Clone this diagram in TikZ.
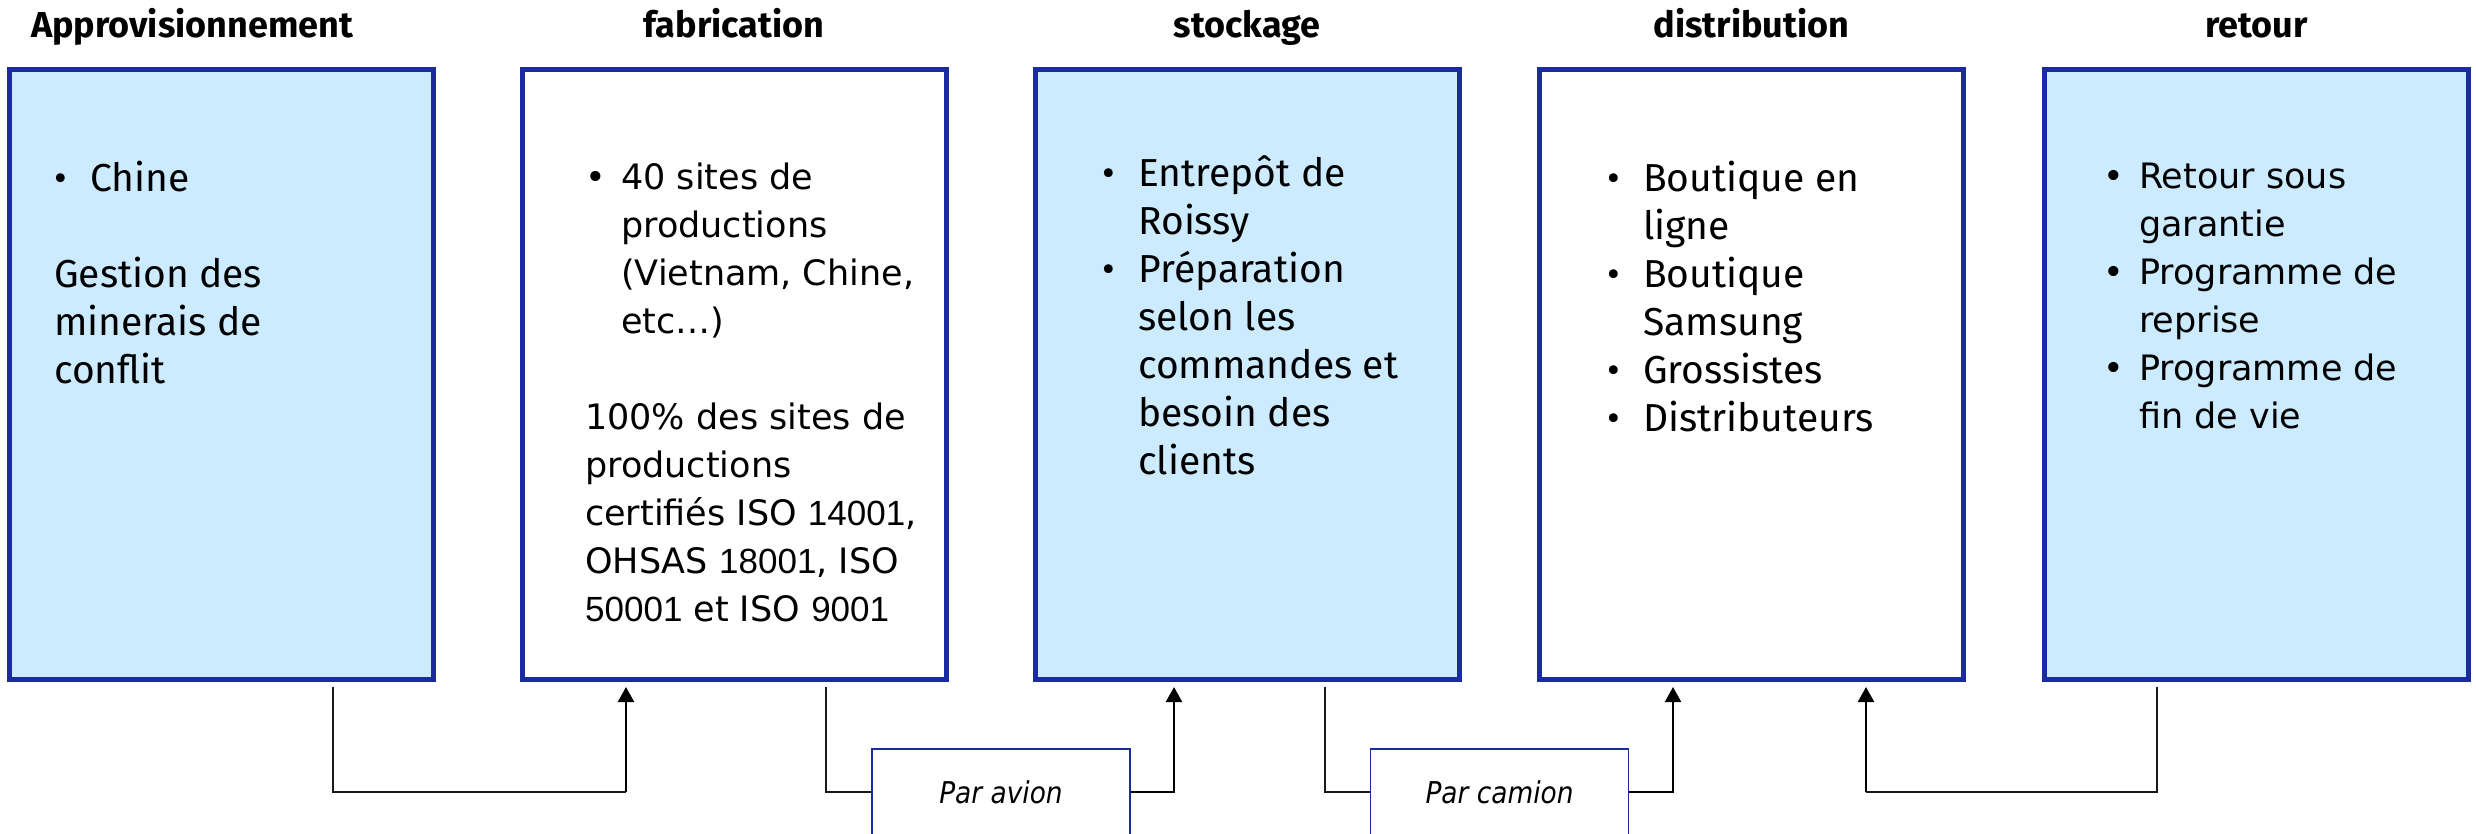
\documentclass[tikz,border=0pt]{standalone}
\usepackage{fontspec}
\setmainfont{Fira Sans}
\newfontfamily\dejavu{DejaVu Sans}
\newfontfamily\arial{Liberation Sans}
\newfontfamily\etroit[FakeStretch=0.88]{DejaVu Sans}
\usetikzlibrary{arrows.meta,positioning}
\definecolor{bordbleu}{RGB}{26,43,159}
\definecolor{fondbleu}{RGB}{204,235,255}
\newcommand{\puce}{\makebox[36pt][l]{\textbullet}}
\newcommand{\retrait}{\makebox[36pt]{}}

\begin{document}
\begin{tikzpicture}[
        x=1pt, y=-1pt,
        boite/.style={draw=bordbleu, line width=5pt, minimum width=424pt, minimum height=610pt, inner sep=0pt},
        bleun/.style={boite, fill=fondbleu},
        blancn/.style={boite, fill=white},
        titre/.style={anchor=base, font=\fontsize{36}{40}\selectfont\bfseries},
        texte/.style={anchor=base west, align=left, inner sep=0pt, font=\fontsize{39}{48}\selectfont},
        textedv/.style={texte, font=\dejavu\fontsize{35}{48}\selectfont},
        transport/.style={draw=bordbleu, line width=1.5pt, minimum width=258pt, minimum height=86pt, font=\etroit\itshape\fontsize{30}{34}\selectfont},
        fil/.style={draw=black!90, line width=1.2pt},
        fleche/.style={draw=black, line width=2.2pt, -{Triangle[length=15pt,width=16pt]}},
    ]
    \useasboundingbox (0,0) rectangle (2476,834);

    % les cinq etapes
    \node[bleun] (appro) at (221.5,374.5) {};
    \node[blancn] (fabri) at (734,374.5) {};
    \node[bleun] (stock) at (1247,374.5) {};
    \node[blancn] (distri) at (1751.5,374.5) {};
    \node[bleun] (retour) at (2256.5,374.5) {};

    \node[titre] (tappro) at (192,38) {Approvisionnement};
    \node[titre] (tfabri) at (734,38) {fabrication};
    \node[titre] (tstock) at (1247,38) {stockage};
    \node[titre] (tdistri) at (1751.5,38) {distribution};
    \node[titre] (tretour) at (2256.5,38) {retour};

    % textes (ancre sur la derniere ligne)
    \node[texte] (xappro) at (54,383) {\puce Chine\\[48pt] Gestion des\\ minerais de\\ conflit};
    \node[textedv] (xfabri) at (585,621) {\puce 40 sites de\\ \retrait productions\\ \retrait (Vietnam, Chine,\\ \retrait etc…)\\[48pt] 100\% des sites de\\ productions\\ certifiés ISO {\arial 14001},\\ OHSAS {\arial 18001}, ISO\\ {\arial 50001} et ISO {\arial 9001}};
    \node[texte] (xstock) at (1102,474) {\puce Entrepôt de\\ \retrait Roissy\\ \puce Préparation\\ \retrait selon les\\ \retrait commandes et\\ \retrait besoin des\\ \retrait clients};
    \node[texte] (xdistri) at (1607,431) {\puce Boutique en\\ \retrait ligne\\ \puce Boutique\\ \retrait Samsung\\ \puce Grossistes\\ \puce Distributeurs};
    \node[textedv] (xretour) at (2103,428) {\puce Retour sous\\ \retrait garantie\\ \puce Programme de\\ \retrait reprise\\ \puce Programme de\\ \retrait fin de vie};

    % transports
    \node[transport] (avion) at (1001,792) {Par avion};
    \node[transport] (camion) at (1499.5,792) {Par camion};

    \coordinate (bas) at (0,792);
    \coordinate (dappro) at (333,687);
    \coordinate (afabri) at (626,687);
    \coordinate (dfabri) at (826,687);
    \coordinate (astock) at (1174,687);
    \coordinate (dstock) at (1325,687);
    \coordinate (adistri) at (1673,687);
    \coordinate (dretour) at (2157,687);
    \coordinate (rdistri) at (1866,687);

    \draw[fil] (dappro) |- (bas -| afabri);
    \draw[fleche] (bas -| afabri) -- (afabri);
    \draw[fil] (dfabri) |- (avion.west);
    \draw[fleche] (avion.east) -| (astock);
    \draw[fil] (dstock) |- (camion.west);
    \draw[fleche] (camion.east) -| (adistri);
    \draw[fil] (dretour) |- (bas -| rdistri);
    \draw[fleche] (bas -| rdistri) -- (rdistri);
\end{tikzpicture}
\end{document}
